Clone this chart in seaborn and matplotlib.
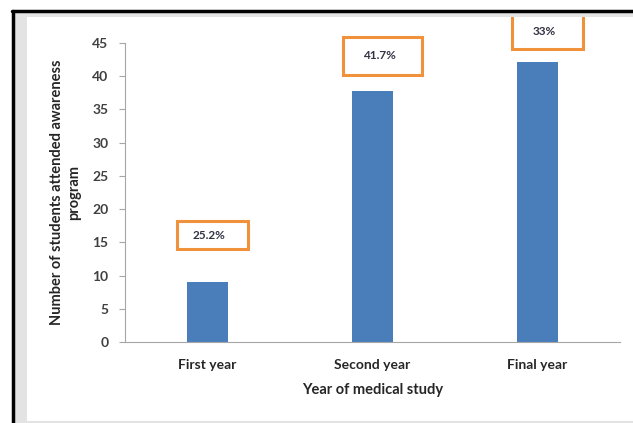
import numpy as np
import pandas as pd
import matplotlib.pyplot as plt
from matplotlib.patches import Rectangle
import seaborn as sns

years = ["First year", "Second year", "Final year"]
students = [9.1, 37.8, 42.2]
pct_labels = ["25.2%", "41.7%", "33%"]

# where the orange label boxes sit (data units) and how big they are
box_y = [16.1, 43.1, 46.8]
box_w = [0.43, 0.48, 0.43]
box_h = [4.2, 5.7, 5.4]
box_dx = [0.03, 0.06, 0.06]

sns.set_style("ticks")
plt.rcParams["font.family"] = ["Lato", "DejaVu Sans"]

df = pd.DataFrame({"year": years, "n": students})

fig = plt.figure(figsize=(6.33, 4.23), dpi=100)
fig.patch.set_facecolor("white")

ax = fig.add_axes([125/633, 81/423, 495/633, 299/423])
sns.barplot(data=df, x="year", y="n", color="#4a7ebb", width=0.25, ax=ax,
            saturation=1, edgecolor="none")

ax.set_xlim(-0.5, 2.5)
ax.set_ylim(0, 45)
ax.set_yticks(np.arange(0, 46, 5))

sns.despine(ax=ax)
ax.spines["left"].set_color("#a6a6a6")
ax.spines["bottom"].set_color("#a6a6a6")
ax.tick_params(axis="y", length=4, color="#a6a6a6", labelsize=10, labelcolor="#404040", pad=8)
ax.tick_params(axis="x", length=0, labelsize=10, labelcolor="#262626", pad=12)
for t in ax.get_yticklabels() + ax.get_xticklabels():
    t.set_fontweight("bold")

ax.set_xlabel("Year of medical study", fontsize=10.5, fontweight="bold", color="#262626", labelpad=9)
ax.set_ylabel("Number of students attended awareness\nprogram", fontsize=10.5,
              fontweight="bold", color="#262626", labelpad=8, linespacing=1.3)

for i, lab in enumerate(pct_labels):
    cx = i + box_dx[i]
    ax.add_patch(Rectangle((cx - box_w[i] / 2, box_y[i] - box_h[i] / 2), box_w[i], box_h[i],
                           facecolor="white", edgecolor="#f0913c", lw=2.2, clip_on=False,
                           zorder=5))
    ax.text(cx - 0.02, box_y[i], lab, ha="center", va="center", fontsize=8.5,
            fontweight="bold", color="#333344", zorder=6, clip_on=False)

# frame of the screenshot: black edge, grey margin (drawn on top)
fig.add_artist(Rectangle((12/633, 0), 15/633, 1 - 12/423, transform=fig.transFigure,
                         facecolor="#e3e3e3", edgecolor="none", zorder=10))
fig.add_artist(Rectangle((12/633, 1 - 17/423), 1, 5/423, transform=fig.transFigure,
                         facecolor="#e3e3e3", edgecolor="none", zorder=10))
fig.add_artist(plt.Line2D([13/633, 13/633], [0, 1 - 11/423], transform=fig.transFigure,
                          color="black", lw=2.5, zorder=11))
fig.add_artist(plt.Line2D([12/633, 1], [1 - 11/423, 1 - 11/423], transform=fig.transFigure,
                          color="black", lw=2.5, zorder=11))
fig.add_artist(plt.Line2D([27/633, 1], [1/423, 1/423], transform=fig.transFigure,
                          color="#e3e3e3", lw=1.5, zorder=11))

fig.savefig("out.png", dpi=100)
